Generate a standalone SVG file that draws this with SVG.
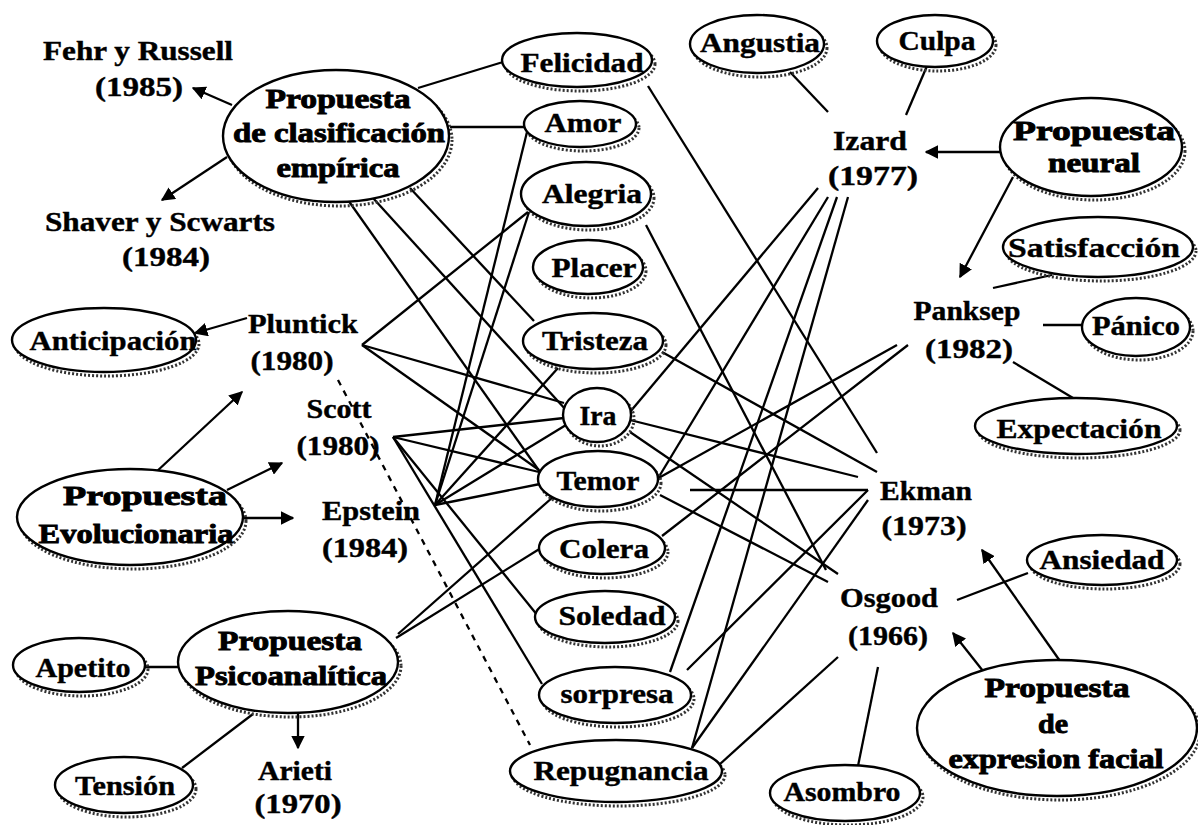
<svg xmlns="http://www.w3.org/2000/svg" width="1198" height="825" viewBox="0 0 1198 825">
<style>
.bg{fill:#fff}
.c{stroke:#000;stroke-width:2.3;fill:none}
.d{stroke:#000;stroke-width:2.3;fill:none;stroke-dasharray:6 6}
.a{stroke:#000;stroke-width:2.3;fill:none;marker-end:url(#ah)}
.n{fill:#fff;stroke:#000;stroke-width:2.4}
.sh{fill:none;stroke:#333;stroke-width:3;stroke-dasharray:2 2}
text{font-family:"Liberation Serif","Times New Roman",serif;font-size:27px;font-weight:bold;fill:#000;text-anchor:middle;stroke:#000;stroke-width:0.4}
.h{font-weight:900;stroke:#000;stroke-width:0.9}
</style>
<defs>
<marker id="ah" viewBox="0 0 10 10" refX="9" refY="5" markerWidth="6" markerHeight="6" markerUnits="strokeWidth" orient="auto">
<path d="M0,0 L10,5 L0,10 z" fill="#000"/>
</marker>
</defs>
<rect class="bg" x="0" y="0" width="1198" height="825"/>
<g id="connectors">
<line class="a" x1="232" y1="105" x2="193" y2="88"/>
<line class="a" x1="227" y1="157" x2="162" y2="200"/>
<line class="c" x1="418" y1="88" x2="503" y2="62"/>
<line class="c" x1="450" y1="127" x2="524" y2="127"/>
<line class="c" x1="348" y1="200" x2="540" y2="472"/>
<line class="c" x1="373" y1="198" x2="566" y2="410"/>
<line class="c" x1="410" y1="188" x2="534" y2="321"/>
<line class="a" x1="247" y1="318" x2="195" y2="333"/>
<line class="c" x1="362" y1="345" x2="528" y2="212"/>
<line class="c" x1="362" y1="345" x2="564" y2="403"/>
<line class="c" x1="362" y1="345" x2="539" y2="470"/>
<line class="c" x1="393" y1="437" x2="564" y2="418"/>
<line class="c" x1="393" y1="437" x2="539" y2="472"/>
<line class="c" x1="393" y1="437" x2="538" y2="616"/>
<line class="c" x1="393" y1="437" x2="542" y2="684"/>
<line class="c" x1="435" y1="505" x2="528" y2="128"/>
<line class="c" x1="435" y1="505" x2="529" y2="212"/>
<line class="c" x1="435" y1="505" x2="558" y2="368"/>
<line class="c" x1="435" y1="505" x2="566" y2="425"/>
<line class="c" x1="435" y1="505" x2="540" y2="484"/>
<line class="a" x1="155" y1="473" x2="242" y2="392"/>
<line class="a" x1="227" y1="490" x2="282" y2="463"/>
<line class="a" x1="243" y1="518" x2="293" y2="518"/>
<line class="c" x1="145" y1="667" x2="178" y2="667"/>
<line class="c" x1="182" y1="768" x2="253" y2="714"/>
<line class="a" x1="298" y1="713" x2="298" y2="748"/>
<line class="c" x1="396" y1="638" x2="541" y2="548"/>
<line class="c" x1="398" y1="634" x2="553" y2="497"/>
<line class="d" x1="338" y1="380" x2="530" y2="745"/>
<line class="c" x1="648" y1="86" x2="877" y2="453"/>
<line class="c" x1="646" y1="225" x2="826" y2="570"/>
<line class="c" x1="662" y1="352" x2="877" y2="472"/>
<line class="c" x1="630" y1="420" x2="858" y2="477"/>
<line class="c" x1="630" y1="432" x2="838" y2="574"/>
<line class="c" x1="660" y1="495" x2="828" y2="582"/>
<line class="c" x1="690" y1="490" x2="868" y2="490"/>
<line class="c" x1="868" y1="490" x2="687" y2="670"/>
<line class="c" x1="868" y1="500" x2="692" y2="748"/>
<line class="c" x1="818" y1="188" x2="630" y2="412"/>
<line class="c" x1="828" y1="197" x2="657" y2="480"/>
<line class="c" x1="837" y1="197" x2="670" y2="672"/>
<line class="c" x1="848" y1="197" x2="692" y2="748"/>
<line class="c" x1="897" y1="345" x2="655" y2="480"/>
<line class="c" x1="908" y1="345" x2="662" y2="536"/>
<line class="c" x1="838" y1="657" x2="720" y2="764"/>
<line class="c" x1="790" y1="72" x2="828" y2="112"/>
<line class="c" x1="927" y1="66" x2="906" y2="115"/>
<line class="a" x1="1000" y1="152" x2="926" y2="152"/>
<line class="a" x1="1013" y1="177" x2="960" y2="277"/>
<line class="c" x1="993" y1="288" x2="1052" y2="275"/>
<line class="c" x1="1043" y1="325" x2="1083" y2="325"/>
<line class="c" x1="1013" y1="362" x2="1073" y2="398"/>
<line class="c" x1="957" y1="600" x2="1028" y2="573"/>
<line class="c" x1="878" y1="667" x2="858" y2="766"/>
<line class="a" x1="1060" y1="661" x2="982" y2="550"/>
<line class="a" x1="983" y1="671" x2="953" y2="633"/>
</g>
<g id="n-clasif"><ellipse class="sh" cx="339" cy="140" rx="113" ry="66"/><ellipse class="n" cx="336" cy="136" rx="113" ry="66"/>
<text class="h" x="338" y="108" textLength="145" lengthAdjust="spacingAndGlyphs">Propuesta</text>
<text class="h" x="339" y="142" textLength="212" lengthAdjust="spacingAndGlyphs">de clasificación</text>
<text class="h" x="338" y="177" textLength="123" lengthAdjust="spacingAndGlyphs">empírica</text></g>
<g id="n-felicidad"><ellipse class="sh" cx="580" cy="64" rx="75" ry="27"/><ellipse class="n" cx="577" cy="60" rx="75" ry="27"/><text x="582" y="72" textLength="123" lengthAdjust="spacingAndGlyphs">Felicidad</text></g>
<g id="n-amor"><ellipse class="sh" cx="583" cy="128" rx="56" ry="23"/><ellipse class="n" cx="580" cy="124" rx="56" ry="23"/><text x="583" y="132" textLength="77" lengthAdjust="spacingAndGlyphs">Amor</text></g>
<g id="n-alegria"><ellipse class="sh" cx="589" cy="198" rx="65" ry="32"/><ellipse class="n" cx="586" cy="194" rx="65" ry="32"/><text x="592" y="203" textLength="100" lengthAdjust="spacingAndGlyphs">Alegria</text></g>
<g id="n-placer"><ellipse class="sh" cx="591" cy="271" rx="55" ry="27"/><ellipse class="n" cx="588" cy="267" rx="55" ry="27"/><text x="594" y="277" textLength="85" lengthAdjust="spacingAndGlyphs">Placer</text></g>
<g id="n-tristeza"><ellipse class="sh" cx="596" cy="345" rx="70" ry="28"/><ellipse class="n" cx="593" cy="341" rx="70" ry="28"/><text x="595" y="350" textLength="106" lengthAdjust="spacingAndGlyphs">Tristeza</text></g>
<g id="n-ira"><ellipse class="sh" cx="600" cy="419" rx="34" ry="27"/><ellipse class="n" cx="597" cy="415" rx="34" ry="27"/><text x="598" y="425" textLength="37" lengthAdjust="spacingAndGlyphs">Ira</text></g>
<g id="n-temor"><ellipse class="sh" cx="601" cy="483" rx="60" ry="28"/><ellipse class="n" cx="598" cy="479" rx="60" ry="28"/><text x="598" y="490" textLength="83" lengthAdjust="spacingAndGlyphs">Temor</text></g>
<g id="n-colera"><ellipse class="sh" cx="605" cy="552" rx="63" ry="26"/><ellipse class="n" cx="602" cy="548" rx="63" ry="26"/><text x="604" y="558" textLength="90" lengthAdjust="spacingAndGlyphs">Colera</text></g>
<g id="n-soledad"><ellipse class="sh" cx="608" cy="621" rx="70" ry="26"/><ellipse class="n" cx="605" cy="617" rx="70" ry="26"/><text x="612" y="625" textLength="107" lengthAdjust="spacingAndGlyphs">Soledad</text></g>
<g id="n-sorpresa"><ellipse class="sh" cx="618" cy="699" rx="76" ry="28"/><ellipse class="n" cx="615" cy="695" rx="76" ry="28"/><text x="617" y="703" textLength="113" lengthAdjust="spacingAndGlyphs">sorpresa</text></g>
<g id="n-repugnancia"><ellipse class="sh" cx="619" cy="775" rx="106" ry="31"/><ellipse class="n" cx="616" cy="771" rx="106" ry="31"/><text x="621" y="780" textLength="175" lengthAdjust="spacingAndGlyphs">Repugnancia</text></g>
<g id="n-angustia"><ellipse class="sh" cx="760" cy="48" rx="67" ry="29"/><ellipse class="n" cx="757" cy="44" rx="67" ry="29"/><text x="760" y="52" textLength="120" lengthAdjust="spacingAndGlyphs">Angustia</text></g>
<g id="n-culpa"><ellipse class="sh" cx="938" cy="45" rx="58" ry="26"/><ellipse class="n" cx="935" cy="41" rx="58" ry="26"/><text x="937" y="50" textLength="77" lengthAdjust="spacingAndGlyphs">Culpa</text></g>
<g id="n-neural"><ellipse class="sh" cx="1094" cy="151" rx="91" ry="49"/><ellipse class="n" cx="1091" cy="147" rx="91" ry="49"/>
<text class="h" x="1094" y="140" textLength="162" lengthAdjust="spacingAndGlyphs">Propuesta</text>
<text class="h" x="1094" y="172" textLength="92" lengthAdjust="spacingAndGlyphs">neural</text></g>
<g id="n-satisfaccion"><ellipse class="sh" cx="1101" cy="251" rx="95" ry="30"/><ellipse class="n" cx="1098" cy="247" rx="95" ry="30"/><text x="1094" y="257" textLength="172" lengthAdjust="spacingAndGlyphs">Satisfacción</text></g>
<g id="n-panico"><ellipse class="sh" cx="1139" cy="331" rx="54" ry="29"/><ellipse class="n" cx="1136" cy="327" rx="54" ry="29"/><text x="1136" y="335" textLength="88" lengthAdjust="spacingAndGlyphs">Pánico</text></g>
<g id="n-expectacion"><ellipse class="sh" cx="1079" cy="430" rx="101" ry="28"/><ellipse class="n" cx="1076" cy="426" rx="101" ry="28"/><text x="1079" y="438" textLength="165" lengthAdjust="spacingAndGlyphs">Expectación</text></g>
<g id="n-ansiedad"><ellipse class="sh" cx="1105" cy="564" rx="75" ry="25"/><ellipse class="n" cx="1102" cy="560" rx="75" ry="25"/><text x="1102" y="569" textLength="125" lengthAdjust="spacingAndGlyphs">Ansiedad</text></g>
<g id="n-facial"><ellipse class="sh" cx="1060" cy="732" rx="140" ry="68"/><ellipse class="n" cx="1057" cy="728" rx="140" ry="68"/>
<text class="h" x="1057" y="697" textLength="145" lengthAdjust="spacingAndGlyphs">Propuesta</text>
<text class="h" x="1053" y="733" textLength="30" lengthAdjust="spacingAndGlyphs">de</text>
<text class="h" x="1056" y="768" textLength="215" lengthAdjust="spacingAndGlyphs">expresion facial</text></g>
<g id="n-asombro"><ellipse class="sh" cx="848" cy="797" rx="75" ry="28"/><ellipse class="n" cx="845" cy="793" rx="75" ry="28"/><text x="842" y="801" textLength="117" lengthAdjust="spacingAndGlyphs">Asombro</text></g>
<g id="n-anticipacion"><ellipse class="sh" cx="107" cy="344" rx="92" ry="32"/><ellipse class="n" cx="104" cy="340" rx="92" ry="32"/><text x="113" y="350" textLength="167" lengthAdjust="spacingAndGlyphs">Anticipación</text></g>
<g id="n-evol"><ellipse class="sh" cx="133" cy="521" rx="113" ry="48"/><ellipse class="n" cx="130" cy="517" rx="113" ry="48"/>
<text class="h" x="145" y="505" textLength="164" lengthAdjust="spacingAndGlyphs">Propuesta</text>
<text class="h" x="136" y="543" textLength="195" lengthAdjust="spacingAndGlyphs">Evolucionaria</text></g>
<g id="n-psico"><ellipse class="sh" cx="291" cy="666" rx="110" ry="51"/><ellipse class="n" cx="288" cy="662" rx="110" ry="51"/>
<text class="h" x="290" y="650" textLength="144" lengthAdjust="spacingAndGlyphs">Propuesta</text>
<text class="h" x="291" y="685" textLength="192" lengthAdjust="spacingAndGlyphs">Psicoanalítica</text></g>
<g id="n-apetito"><ellipse class="sh" cx="82" cy="669" rx="66" ry="27"/><ellipse class="n" cx="79" cy="665" rx="66" ry="27"/><text x="83" y="677" textLength="95" lengthAdjust="spacingAndGlyphs">Apetito</text></g>
<g id="n-tension"><ellipse class="sh" cx="127" cy="789" rx="69" ry="28"/><ellipse class="n" cx="124" cy="785" rx="69" ry="28"/><text x="125" y="795" textLength="100" lengthAdjust="spacingAndGlyphs">Tensión</text></g>
<g id="n-fehr"><text x="138" y="60" textLength="190" lengthAdjust="spacingAndGlyphs">Fehr y Russell</text><text x="139" y="96" textLength="88" lengthAdjust="spacingAndGlyphs">(1985)</text></g>
<g id="n-shaver"><text x="160" y="231" textLength="230" lengthAdjust="spacingAndGlyphs">Shaver y Scwarts</text><text x="166" y="266" textLength="88" lengthAdjust="spacingAndGlyphs">(1984)</text></g>
<g id="n-pluntick"><text x="303" y="333" textLength="110" lengthAdjust="spacingAndGlyphs">Pluntick</text><text x="292" y="370" textLength="83" lengthAdjust="spacingAndGlyphs">(1980)</text></g>
<g id="n-scott"><text x="339" y="418" textLength="65" lengthAdjust="spacingAndGlyphs">Scott</text><text x="338" y="455" textLength="83" lengthAdjust="spacingAndGlyphs">(1980)</text></g>
<g id="n-epstein"><text x="371" y="520" textLength="98" lengthAdjust="spacingAndGlyphs">Epstein</text><text x="365" y="557" textLength="86" lengthAdjust="spacingAndGlyphs">(1984)</text></g>
<g id="n-arieti"><text x="295" y="780" textLength="74" lengthAdjust="spacingAndGlyphs">Arieti</text><text x="298" y="813" textLength="87" lengthAdjust="spacingAndGlyphs">(1970)</text></g>
<g id="n-izard"><text x="870" y="150" textLength="74" lengthAdjust="spacingAndGlyphs">Izard</text><text x="873" y="185" textLength="90" lengthAdjust="spacingAndGlyphs">(1977)</text></g>
<g id="n-panksep"><text x="967" y="320" textLength="107" lengthAdjust="spacingAndGlyphs">Panksep</text><text x="969" y="358" textLength="88" lengthAdjust="spacingAndGlyphs">(1982)</text></g>
<g id="n-ekman"><text x="926" y="500" textLength="92" lengthAdjust="spacingAndGlyphs">Ekman</text><text x="924" y="535" textLength="85" lengthAdjust="spacingAndGlyphs">(1973)</text></g>
<g id="n-osgood"><text x="889" y="607" textLength="98" lengthAdjust="spacingAndGlyphs">Osgood</text><text x="888" y="645" textLength="80" lengthAdjust="spacingAndGlyphs">(1966)</text></g>
</svg>
